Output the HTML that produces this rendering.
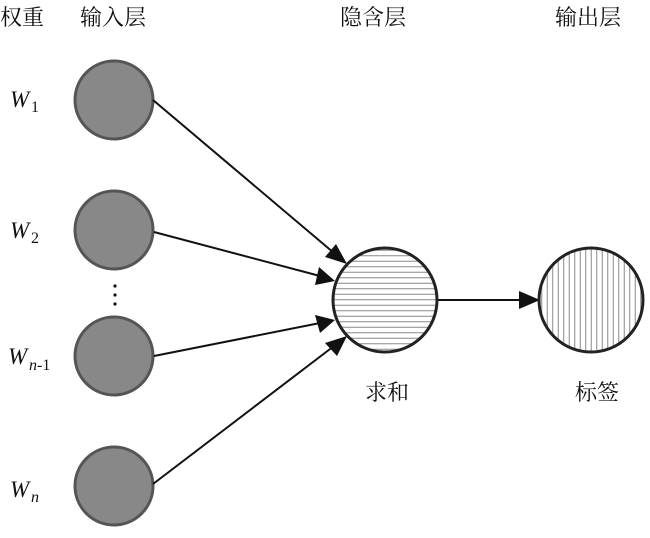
<!DOCTYPE html>
<html><head><meta charset="utf-8"><style>
html,body{margin:0;padding:0;background:#fff;}
svg{display:block}
.c{font-family:"Liberation Serif","Noto Serif CJK SC",serif;font-size:22px;fill:#111}
.w{font-family:"Liberation Serif",serif;font-style:italic;font-size:23px;fill:#111}
.s{font-family:"Liberation Serif",serif;font-size:16px;fill:#111}
</style></head><body>
<svg width="650" height="538" viewBox="0 0 650 538" xmlns="http://www.w3.org/2000/svg">
<defs>
<pattern id="h" width="6" height="5.5" patternUnits="userSpaceOnUse"><rect width="6" height="5.5" fill="#fff"/><line x1="0" y1="2.75" x2="6" y2="2.75" stroke="#888" stroke-width="1"/></pattern>
<pattern id="v" width="5.5" height="6" patternUnits="userSpaceOnUse"><rect width="5.5" height="6" fill="#fff"/><line x1="2.75" y1="0" x2="2.75" y2="6" stroke="#888" stroke-width="1"/></pattern>
</defs>
<text class="c" x="0" y="25">权重</text>
<text class="c" x="80" y="25">输入层</text>
<text class="c" x="340" y="25">隐含层</text>
<text class="c" x="555" y="25">输出层</text>
<text class="c" x="365" y="400">求和</text>
<text class="c" x="575" y="400">标签</text>
<text class="w" x="10" y="107">W</text><text class="s" x="31" y="112">1</text>
<text class="w" x="10" y="238">W</text><text class="s" x="31" y="243">2</text>
<text class="w" x="8" y="364">W</text><text class="s" x="29" y="370"><tspan font-style="italic">n</tspan>-1</text>
<text class="w" x="10" y="497">W</text><text class="s" x="31" y="502" font-style="italic">n</text>
<g fill="#111"><circle cx="115" cy="286" r="1.6"/><circle cx="115" cy="295" r="1.6"/><circle cx="115" cy="304" r="1.6"/></g>
<g fill="#888" stroke="#555" stroke-width="3">
<circle cx="114" cy="100" r="39"/>
<circle cx="114" cy="230" r="39"/>
<circle cx="114" cy="356" r="39"/>
<circle cx="114" cy="486" r="39"/>
</g>
<g stroke="#111" stroke-width="2">
<line x1="153" y1="100" x2="334" y2="253"/>
<line x1="154" y1="232" x2="320" y2="276"/>
<line x1="154" y1="356" x2="320" y2="323"/>
<line x1="153" y1="484" x2="334" y2="346"/>
<line x1="437" y1="300" x2="522" y2="300"/>
</g>
<g fill="#111">
<polygon points="347,264 325,257 336,244"/>
<polygon points="335,281 315,285 319,267"/>
<polygon points="335,320 320,333 315,315"/>
<polygon points="347,336 337,356 325,343"/>
<polygon points="540,300 519,291 519,309"/>
</g>
<circle cx="385" cy="300" r="52" fill="url(#h)" stroke="#222" stroke-width="3"/>
<circle cx="591" cy="300" r="52" fill="url(#v)" stroke="#222" stroke-width="3"/>
</svg>
</body></html>
